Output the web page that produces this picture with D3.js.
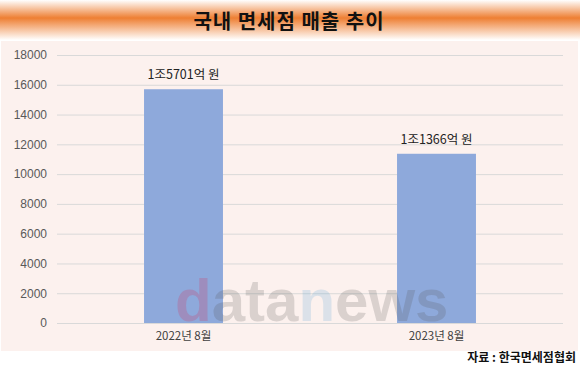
<!DOCTYPE html>
<html><head><meta charset="utf-8">
<script src="https://cdn.jsdelivr.net/npm/d3@7"></script>
<style>body{margin:0;background:#fff;}svg{display:block;}</style>
</head><body>
<script>
const categories = ["2022년 8월", "2023년 8월"];
const values = [15701, 11366];
const valueLabels = ["1조5701억 원", "1조1366억 원"];
const yTicks = [0, 2000, 4000, 6000, 8000, 10000, 12000, 14000, 16000, 18000];
const title = "국내 면세점 매출 추이";
const source = "자료 : 한국면세점협회";

const W = 580, H = 367;
const svg = d3.select("body").append("svg").attr("width", W).attr("height", H);
const defs = svg.append("defs");
const g1 = defs.append("linearGradient").attr("id","tg").attr("x1",0).attr("y1",0).attr("x2",0).attr("y2",1);
g1.append("stop").attr("offset","0%").attr("stop-color","#ffffff");
g1.append("stop").attr("offset","45%").attr("stop-color","#EE7F33");
g1.append("stop").attr("offset","100%").attr("stop-color","#ffffff");

svg.append("rect").attr("x",0).attr("y",0).attr("width",W).attr("height",40).attr("fill","url(#tg)");
svg.append("text").attr("x",289).attr("y",29).attr("text-anchor","middle")
  .attr("font-family","'Noto Sans CJK KR'").attr("font-weight","bold").attr("font-size",20)
  .attr("letter-spacing",1).attr("fill","#111").text(title);

svg.append("rect").attr("x",1).attr("y",41).attr("width",577).attr("height",310).attr("fill","#FCF1EE");

const x = d3.scaleBand().domain(categories).range([57, 563]).paddingInner(0.688).paddingOuter(0.344);
const y = d3.scaleLinear().domain([0, 18000]).range([323, 55]);

const font = "'Liberation Sans', Arial, sans-serif";
// grid
svg.append("g").selectAll("line").data(yTicks).join("line")
  .attr("x1",57).attr("x2",563).attr("y1",d=>y(d)+0.5).attr("y2",d=>y(d)+0.5)
  .attr("stroke","#D9D9D9").attr("stroke-width",1);

const ya = svg.append("g").attr("transform","translate(57,0)")
  .call(d3.axisLeft(y).tickValues(yTicks).tickFormat(d=>String(d)).tickSize(0).tickPadding(10));
ya.select(".domain").remove();
ya.selectAll("text").attr("font-family",font).attr("font-size",12).attr("fill","#595959");

svg.append("g").selectAll("rect").data(values).join("rect")
  .attr("x",(d,i)=>x(categories[i])).attr("width",x.bandwidth())
  .attr("y",d=>y(d)).attr("height",d=>y(0)-y(d)).attr("fill","#8EA9DB");

// watermark
const wm = svg.append("text").attr("x",175).attr("y",321).attr("font-family",font)
  .attr("font-size",60).attr("font-weight","bold").attr("opacity",0.2);
wm.append("tspan").attr("fill","#E0204A").text("d");
wm.append("tspan").attr("fill","#555").text("ata");
wm.append("tspan").attr("fill","#5BA7D8").text("n");
wm.append("tspan").attr("fill","#555").text("ews");

svg.append("g").selectAll("text").data(values).join("text")
  .attr("x",(d,i)=>x(categories[i])+x.bandwidth()/2).attr("y",d=>y(d)-10)
  .attr("text-anchor","middle").attr("font-family","'Noto Sans CJK KR'").attr("font-size",12.5)
  .attr("fill","#222").text((d,i)=>valueLabels[i]);

const xa = svg.append("g").attr("transform","translate(0,323)")
  .call(d3.axisBottom(x).tickSize(0).tickPadding(9));
xa.select(".domain").remove();
xa.selectAll("text").attr("font-family","'Noto Sans CJK KR'").attr("font-size",11.5).attr("fill","#404040");

svg.append("text").attr("x",576).attr("y",362).attr("text-anchor","end")
  .attr("font-family","'Noto Sans CJK KR'").attr("font-weight","bold").attr("font-size",12)
  .attr("fill","#111").text(source);
</script>
</body></html>
